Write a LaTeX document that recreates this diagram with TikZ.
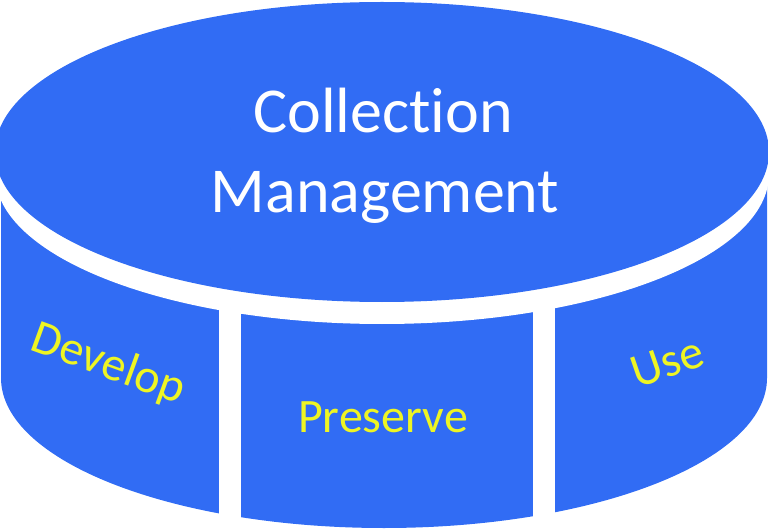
\documentclass[tikz,border=0pt]{standalone}
\usepackage{fontspec}
\setmainfont{Carlito}[Ligatures=NoCommon]
\definecolor{cylblue}{RGB}{49,108,244}
\definecolor{lblyellow}{RGB}{238,245,35}
\begin{document}
\begin{tikzpicture}[x=1pt,y=-1pt,
  titletext/.style={text=white,font=\fontsize{64}{77}\selectfont,inner sep=0pt,anchor=base},
  paneltext/.style={text=lblyellow,font=\fontsize{48}{57}\selectfont,inner sep=0pt,anchor=base}]
\useasboundingbox (0,0) rectangle (768,529);
% body of the cylinder
\fill[cylblue] (1,174) -- (1,378) arc[start angle=180,end angle=360,x radius=383,y radius=-150] -- (767,174) -- cycle;
% white gap under the top disk
\fill[white] (382,174) ellipse[x radius=387,y radius=150];
% white separators between the panels
\fill[white] (219,174) rectangle (241,529);
\fill[white] (533,174) rectangle (555,529);
% top disk
\fill[cylblue] (382,152) ellipse[x radius=387,y radius=150];
% texts
\node[titletext] (title1) at (383,133) {Collection};
\node[titletext] (title2) at (385,213) {Management};
\node[paneltext,rotate=-20] (develop) at (104,377) {Develop};
\node[paneltext] (preserve) at (383,432) {Preserve};
\node[paneltext,rotate=19] (use) at (672,377) {Use};
\end{tikzpicture}
\end{document}
